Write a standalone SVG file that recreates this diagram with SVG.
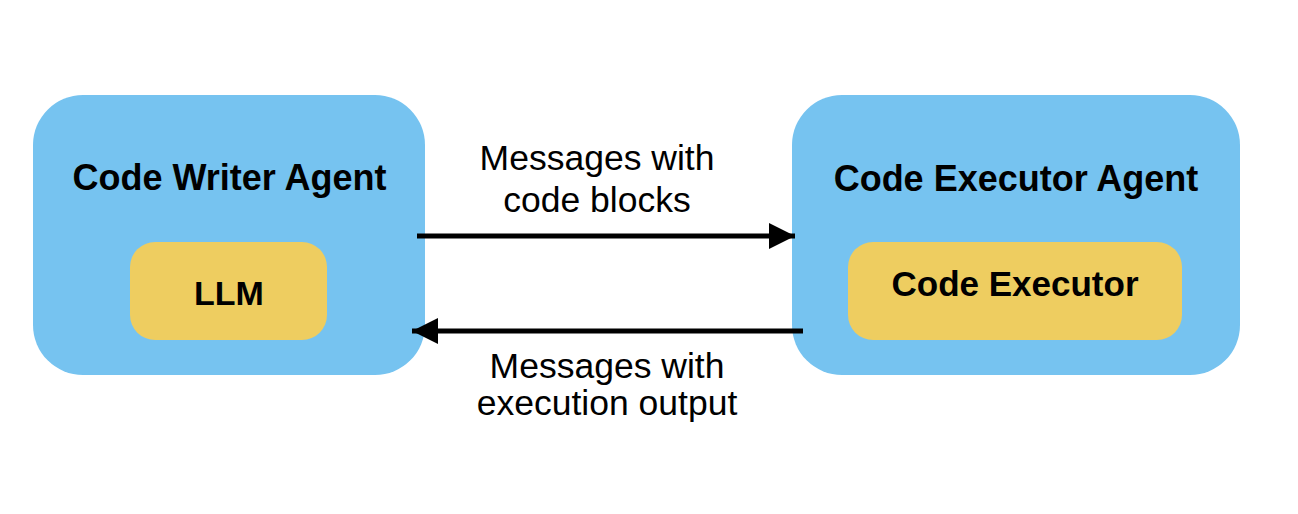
<svg xmlns="http://www.w3.org/2000/svg" width="1298" height="514" viewBox="0 0 1298 514">
  <style>
    .agent { fill: #76C3F0; }
    .inner { fill: #EECD60; }
    .title { font-family: "Liberation Sans", Arial, sans-serif; font-weight: bold; font-size: 36px; fill: #000; text-anchor: middle; }
    .label { font-family: "Liberation Sans", Arial, sans-serif; font-size: 35.5px; fill: #000; text-anchor: middle; }
    .conn { stroke: #000; stroke-width: 5; fill: none; }
  </style>
  <defs>
    <marker id="arrow" viewBox="0 0 10 10" refX="10" refY="5" markerWidth="5.2" markerHeight="5.2" markerUnits="strokeWidth" orient="auto">
      <path d="M0,0 L10,5 L0,10 Z" fill="#000"/>
    </marker>
  </defs>
  <rect width="1298" height="514" fill="#fff"/>

  <g id="code-writer-agent">
    <rect class="agent" x="33" y="95" width="392" height="280" rx="50" ry="50"/>
    <text class="title" x="229.5" y="190">Code Writer Agent</text>
    <g id="llm">
      <rect class="inner" x="130" y="242" width="197" height="98" rx="25" ry="25"/>
      <text class="title" x="229" y="305" style="font-size:34px">LLM</text>
    </g>
  </g>

  <g id="code-executor-agent">
    <rect class="agent" x="792" y="95" width="448" height="280" rx="50" ry="50"/>
    <text class="title" x="1016" y="191">Code Executor Agent</text>
    <g id="code-executor">
      <rect class="inner" x="848" y="242" width="334" height="98" rx="25" ry="25"/>
      <text class="title" x="1015" y="296" style="font-size:35px">Code Executor</text>
    </g>
  </g>

  <g id="connectors">
    <line class="conn" x1="417" y1="236" x2="795" y2="236" marker-end="url(#arrow)"/>
    <line class="conn" x1="803" y1="331" x2="412" y2="331" marker-end="url(#arrow)"/>
    <text class="label" x="597" y="170">Messages with</text>
    <text class="label" x="597" y="212">code blocks</text>
    <text class="label" x="607" y="378">Messages with</text>
    <text class="label" x="607" y="415">execution output</text>
  </g>
</svg>
